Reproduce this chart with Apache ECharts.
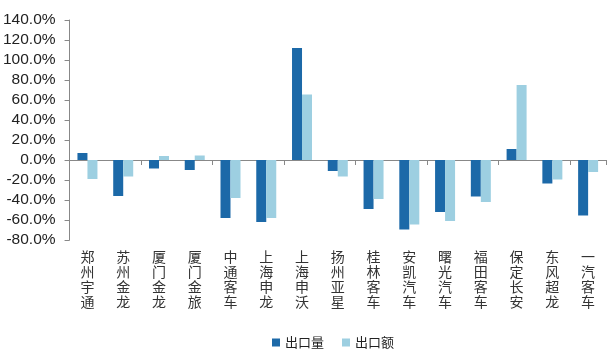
<!DOCTYPE html>
<html>
<head>
<meta charset="utf-8">
<script src="https://cdn.jsdelivr.net/npm/echarts@6/dist/echarts.min.js"></script>
<style>
  html, body { margin: 0; padding: 0; background: #fff; }
  #chart { width: 607px; height: 351px; }
</style>
</head>
<body>
<div id="chart"></div>
<script>
// 企业名称
const categories = ['郑州宇通', '苏州金龙', '厦门金龙', '厦门金旅', '中通客车', '上海申龙', '上海申沃',
    '扬州亚星', '桂林客车', '安凯汽车', '曙光汽车', '福田客车', '保定长安', '东风超龙', '一汽客车'];
// 同比增速 (%)
const exportVolume = [7, -36, -8.5, -10, -58, -62, 112, -11, -49, -69.5, -52, -36.5, 11, -23.5, -55.5];
const exportValue = [-19, -16.5, 4, 4.5, -38, -58, 65.5, -16.5, -39, -64.5, -61, -42, 75, -19.5, -12];
const yTicks = { min: -80, max: 140, interval: 20 };

const chart = echarts.init(document.getElementById('chart'));

const option = {
    animation: false,
    grid: { left: 68, right: 1, top: 20, bottom: 111 },
    legend: {
        top: 331,
        left: 267,
        itemWidth: 8,
        itemHeight: 8,
        itemGap: 18,
        icon: 'rect',
        textStyle: { fontSize: 13, color: '#222', fontFamily: 'Noto Sans CJK SC' },
        data: ['出口量', '出口额']
    },
    xAxis: [
        {
            type: 'category',
            data: categories,
            axisLine: { onZero: true, lineStyle: { color: '#888' } },
            axisTick: { show: true, alignWithLabel: false, length: 5, lineStyle: { color: '#888' } },
            axisLabel: { show: false }
        },
        {
            type: 'category',
            data: categories,
            position: 'bottom',
            axisLine: { show: false, onZero: false },
            axisTick: { show: false },
            axisLabel: {
                interval: 0,
                margin: 9,
                fontSize: 14,
                lineHeight: 15,
                color: '#333',
                fontFamily: 'Noto Sans CJK SC',
                formatter: (v) => v.split('').join('\n')
            }
        }
    ],
    yAxis: {
        type: 'value',
        min: yTicks.min,
        max: yTicks.max,
        interval: yTicks.interval,
        axisLine: { show: true, lineStyle: { color: '#888' } },
        axisTick: { show: true, length: 5, lineStyle: { color: '#888' } },
        splitLine: { show: false },
        axisLabel: {
            margin: 14,
            fontSize: 15.5,
            color: '#222',
            fontFamily: 'Liberation Sans',
            formatter: (v) => v.toFixed(1) + '%'
        }
    },
    series: [
        {
            name: '出口量',
            type: 'bar',
            xAxisIndex: 0,
            data: exportVolume,
            barWidth: 10,
            barGap: '0%',
            itemStyle: { color: '#1c69a8' }
        },
        {
            name: '出口额',
            type: 'bar',
            xAxisIndex: 0,
            data: exportValue,
            barWidth: 10,
            itemStyle: { color: '#9dcfe1' }
        }
    ]
};

chart.setOption(option);
</script>
</body>
</html>
